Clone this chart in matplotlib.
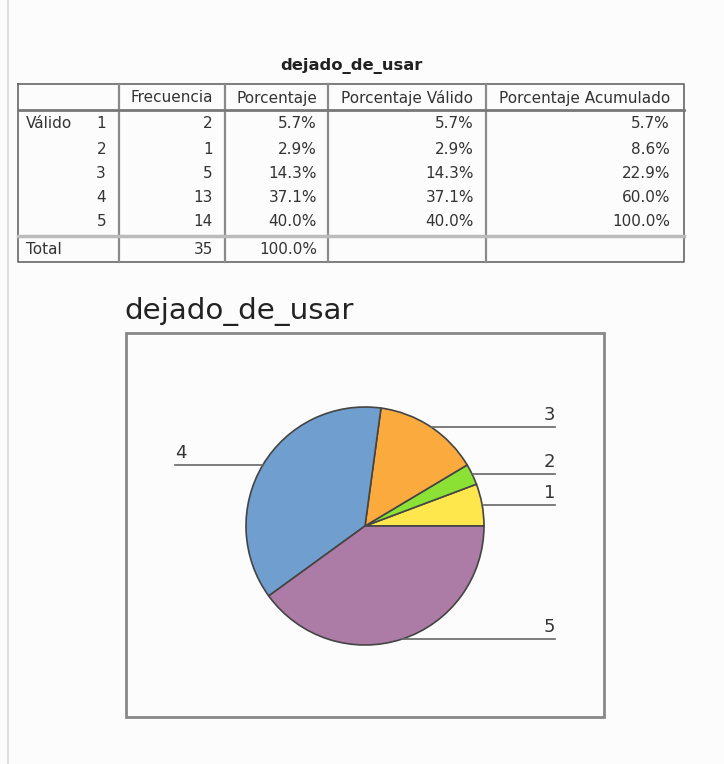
import matplotlib
matplotlib.use("Agg")
import matplotlib.pyplot as plt
import numpy as np

# ---- data ----
categories = ['1', '2', '3', '4', '5']
frecuencia = [2, 1, 5, 13, 14]
porcentaje = ['5.7%', '2.9%', '14.3%', '37.1%', '40.0%']
porcentaje_valido = ['5.7%', '2.9%', '14.3%', '37.1%', '40.0%']
porcentaje_acumulado = ['5.7%', '8.6%', '22.9%', '60.0%', '100.0%']
total_frecuencia = 35
total_porcentaje = '100.0%'
headers = ['Frecuencia', 'Porcentaje', 'Porcentaje Válido', 'Porcentaje Acumulado']
title = 'dejado_de_usar'
colors = ['#FDE74C', '#8BE234', '#FBAA3E', '#709ECE', '#AC7BA6']

W, H = 724, 764
fig = plt.figure(figsize=(W / 100, H / 100), dpi=100)
fig.patch.set_facecolor('#fcfcfc')
ax = fig.add_axes([0, 0, 1, 1])
ax.set_axis_off()

def Y(py):
    return H - py

FONT = 'DejaVu Sans'
TXT = '#333333'

# left page line
ax.plot([8, 8], [Y(0), Y(H)], color='#d8d8d8', lw=1.2)

# ---- table ----
ax.text(351, Y(66), title, ha='center', va='center', fontsize=11.8, fontweight='bold',
        color='#222222', family=FONT)
cols = [18, 119, 225, 328, 486, 684]
top, hdr_bot, tot_top, bot = 84, 110, 236, 262
ax.plot([cols[0], cols[-1], cols[-1], cols[0], cols[0]],
        [Y(top), Y(top), Y(bot), Y(bot), Y(top)], color='#666666', lw=1.2)
for c in cols[1:-1]:
    ax.plot([c, c], [Y(top), Y(bot)], color='#8a8a8a', lw=1.6)
ax.plot([cols[0], cols[-1]], [Y(hdr_bot), Y(hdr_bot)], color='#777777', lw=2)
ax.plot([cols[0], cols[-1]], [Y(tot_top), Y(tot_top)], color='#bbbbbb', lw=2.5)

fs = 11
for i, h in enumerate(headers):
    ax.text((cols[i + 1] + cols[i + 2]) / 2, Y(98), h, ha='center', va='center',
            fontsize=fs, color=TXT, family=FONT)

row_y = [124, 149, 173, 197, 222]
ax.text(26, Y(row_y[0]), 'Válido', ha='left', va='center', fontsize=fs, color=TXT, family=FONT)
for k, cat in enumerate(categories):
    y = Y(row_y[k])
    ax.text(106, y, cat, ha='right', va='center', fontsize=fs, color=TXT, family=FONT)
    ax.text(cols[2] - 12, y, str(frecuencia[k]), ha='right', va='center', fontsize=fs, color=TXT, family=FONT)
    ax.text(cols[3] - 11, y, porcentaje[k], ha='right', va='center', fontsize=fs, color=TXT, family=FONT)
    ax.text(cols[4] - 12, y, porcentaje_valido[k], ha='right', va='center', fontsize=fs, color=TXT, family=FONT)
    ax.text(cols[5] - 14, y, porcentaje_acumulado[k], ha='right', va='center', fontsize=fs, color=TXT, family=FONT)
ax.text(26, Y(249), 'Total', ha='left', va='center', fontsize=fs, color=TXT, family=FONT)
ax.text(cols[2] - 12, Y(249), str(total_frecuencia), ha='right', va='center', fontsize=fs, color=TXT, family=FONT)
ax.text(cols[3] - 11, Y(249), total_porcentaje, ha='right', va='center', fontsize=fs, color=TXT, family=FONT)

# ---- pie chart ----
ax.text(124, Y(312), title, ha='left', va='center', fontsize=21.2, color='#222222', family=FONT)
ax.add_patch(plt.Rectangle((126, Y(717)), 604 - 126, 717 - 333, fill=False,
                           edgecolor='#888888', lw=2))

cx, cy, r = 365, Y(526), 119
wedges, _ = ax.pie(frecuencia, center=(cx, cy), radius=r, startangle=0, counterclock=True,
                   colors=colors, wedgeprops=dict(edgecolor='#444444', linewidth=1.2))
for w, cat in zip(wedges, categories):
    ang = np.deg2rad((w.theta1 + w.theta2) / 2)
    x0 = cx + r * np.cos(ang)
    y0 = cy + r * np.sin(ang)
    if np.cos(ang) >= 0:
        x1 = 555
        ax.plot([x0, x1], [y0, y0], color='#666666', lw=1.2)
        ax.text(x1, y0 + 3, cat, ha='right', va='bottom', fontsize=13, color='#333333', family=FONT)
    else:
        x1 = 175
        ax.plot([x1, x0], [y0, y0], color='#666666', lw=1.2)
        ax.text(x1, y0 + 3, cat, ha='left', va='bottom', fontsize=13, color='#333333', family=FONT)

ax.set_xlim(0, W)
ax.set_ylim(0, H)
ax.set_aspect('auto')
fig.savefig('out.png', dpi=100, facecolor=fig.get_facecolor())
